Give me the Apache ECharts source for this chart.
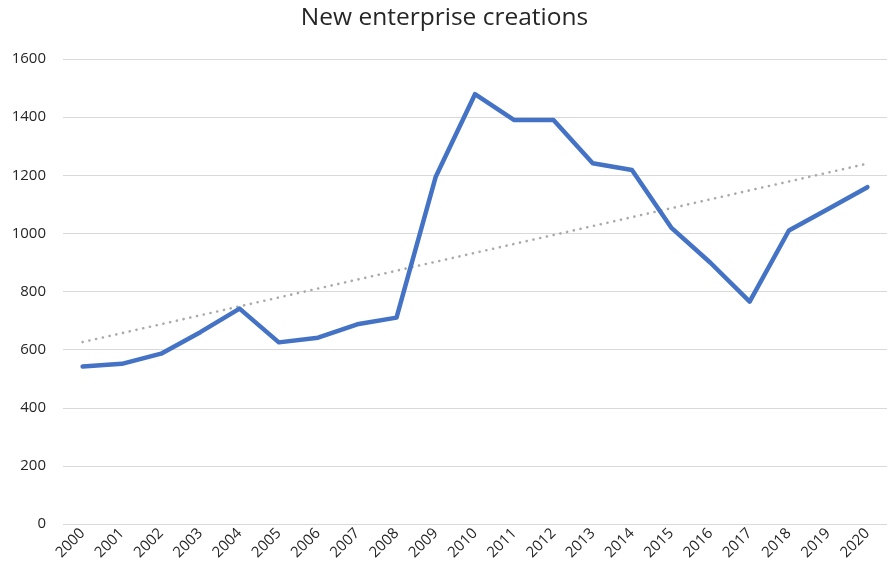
<!DOCTYPE html>
<html>
<head>
<meta charset="utf-8">
<script src="https://cdn.jsdelivr.net/npm/echarts@6/dist/echarts.min.js"></script>
<style>
  html, body { margin: 0; padding: 0; background: #fff; }
  #chart { width: 889px; height: 575px; }
</style>
</head>
<body>
<div id="chart"></div>
<script>
// Yearly counts of newly created enterprises
const years = ['2000','2001','2002','2003','2004','2005','2006','2007','2008','2009','2010',
               '2011','2012','2013','2014','2015','2016','2017','2018','2019','2020'];
const creations = [542, 551, 586, 660, 741, 625, 641, 687, 710, 1195, 1479,
                   1390, 1390, 1241, 1218, 1020, 899, 765, 1010, 1084, 1159];
// Linear trend: value at the first and last year
const trendEnds = [626, 1240];
const yTicks = [0, 200, 400, 600, 800, 1000, 1200, 1400, 1600];

const trend = years.map((_, i) =>
  i === 0 ? trendEnds[0] : (i === years.length - 1 ? trendEnds[1] : null));

const font = '"Open Sans", "Liberation Sans", sans-serif';
const chart = echarts.init(document.getElementById('chart'));
chart.setOption({
  animation: false,
  title: {
    text: 'New enterprise creations',
    left: 'center',
    top: 1,
    textStyle: { fontFamily: font, fontSize: 24.5, fontWeight: 'normal', color: '#262626' }
  },
  grid: { left: 63, right: 2, top: 59, bottom: 51, containLabel: false },
  xAxis: {
    type: 'category',
    data: years,
    boundaryGap: true,
    axisLine: { show: false },
    axisTick: { show: false },
    axisLabel: {
      rotate: 45,
      interval: 0,
      margin: 7,
      fontFamily: font,
      fontSize: 15,
      color: '#262626'
    }
  },
  yAxis: {
    type: 'value',
    min: yTicks[0],
    max: yTicks[yTicks.length - 1],
    interval: 200,
    axisLine: { show: false },
    axisTick: { show: false },
    splitLine: { lineStyle: { color: '#d9d9d9', width: 1 } },
    axisLabel: {
      margin: 17,
      fontFamily: font,
      fontSize: 15,
      color: '#262626',
      formatter: v => String(v)
    }
  },
  series: [
    {
      name: 'Trend',
      type: 'line',
      data: trend,
      connectNulls: true,
      symbol: 'none',
      z: 1,
      lineStyle: { color: '#aaaaaa', width: 2.6, type: [0.1, 6.8], cap: 'round' }
    },
    {
      name: 'New enterprise creations',
      type: 'line',
      data: creations,
      symbol: 'none',
      z: 2,
      lineStyle: { color: '#4472c4', width: 4.5, cap: 'round', join: 'round' }
    }
  ]
});
</script>
</body>
</html>
